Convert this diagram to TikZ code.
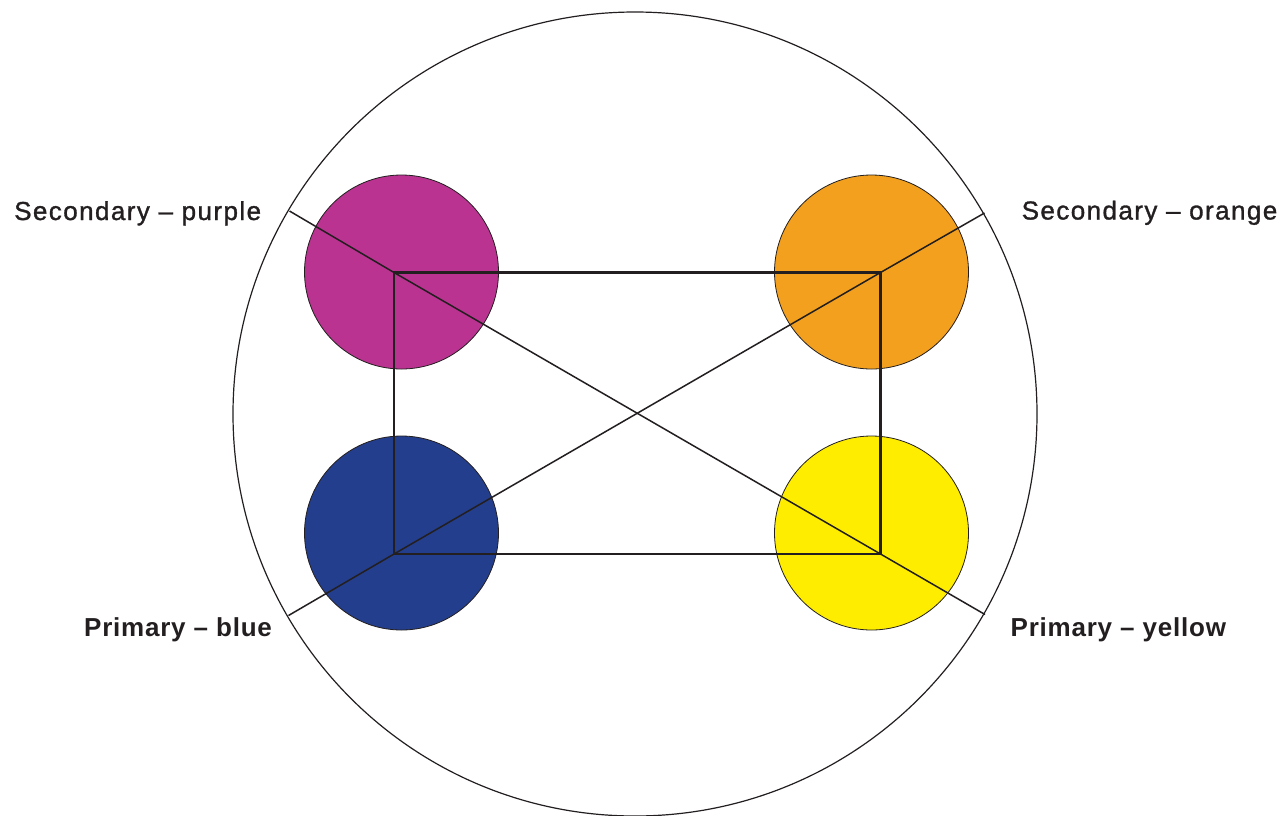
\documentclass[tikz,border=0pt]{standalone}
\usepackage{fontspec}
\setmainfont{Liberation Sans}
\newfontfamily\labreg[LetterSpace=5.5,FakeBold=1.2]{Liberation Sans}
\newfontfamily\labbold[LetterSpace=3]{Liberation Sans}
\definecolor{cpurple}{RGB}{187,51,145}
\definecolor{corange}{RGB}{243,160,30}
\definecolor{cblue}{RGB}{35,62,140}
\definecolor{cyellow}{RGB}{255,237,0}
\definecolor{ink}{RGB}{35,31,32}
\begin{document}
\begin{tikzpicture}[x=1pt,y=-1pt,
  dot/.style={circle, draw=ink, line width=0.8pt, minimum size=194pt, inner sep=0pt},
  seclab/.style={anchor=base west, inner sep=0pt, text=ink, font=\labreg\fontsize{26}{30}\selectfont},
  primlab/.style={anchor=base west, inner sep=0pt, text=ink, font=\labbold\fontsize{26}{30}\selectfont\bfseries},
  diag/.style={draw=ink, line width=1.5pt},
  frame/.style={draw=ink, line width=2.6pt, line join=miter}]
\useasboundingbox (0,0) rectangle (1282,815);
\begin{scope}
\clip (0,0) rectangle (1282,815);
\node[circle, draw=ink, line width=1.2pt, minimum size=804pt, inner sep=0pt] (wheel) at (635,414) {};
\end{scope}
\node[dot, fill=cpurple] (purple) at (401.5,272) {};
\node[dot, fill=corange] (orange) at (871.5,272) {};
\node[dot, fill=cblue] (blue) at (401.5,533) {};
\node[dot, fill=cyellow] (yellow) at (871.5,533) {};
\coordinate (tl) at (394,272.5);
\coordinate (tr) at (880.5,272.5);
\coordinate (bl) at (394,554);
\coordinate (br) at (880.5,554);
\coordinate (e1) at (289.5,211);
\coordinate (e2) at (985,614.5);
\coordinate (e3) at (288.5,615.5);
\coordinate (e4) at (984.5,213);
\draw[diag] (e1) -- (tl) -- (br) -- (e2);
\draw[diag] (e3) -- (bl) -- (tr) -- (e4);
\draw[frame] (tl) rectangle (br);
\node[seclab] (lpurple) at (14,220) {Secondary – purple};
\node[seclab] (lorange) at (1021.5,219.5) {Secondary – orange};
\node[primlab] (lblue) at (84,636) {Primary – blue};
\node[primlab] (lyellow) at (1010.5,636) {Primary – yellow};
\end{tikzpicture}
\end{document}
